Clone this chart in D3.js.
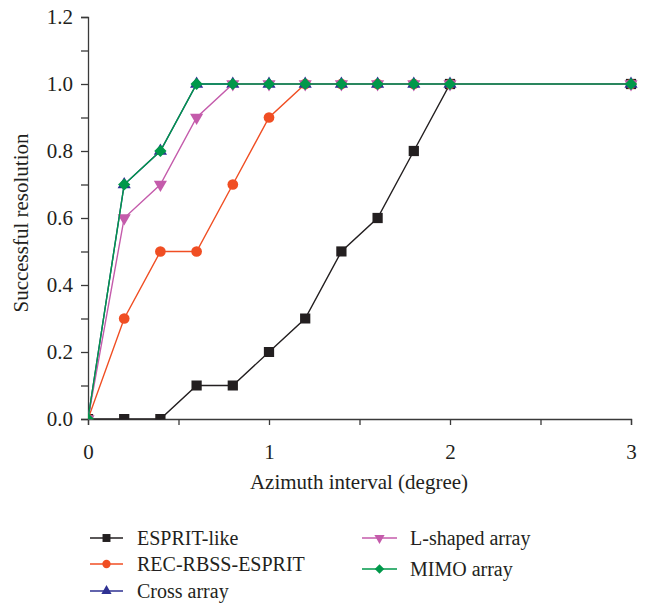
<!DOCTYPE html>
<html><head><meta charset="utf-8">
<script src="https://cdn.jsdelivr.net/npm/d3@7/dist/d3.min.js"></script>
<style>body{margin:0;background:#fff;} svg{display:block;}</style>
</head><body>
<svg id="chart" width="648" height="603"></svg>
<script>
const xValues = [0, 0.2, 0.4, 0.6, 0.8, 1.0, 1.2, 1.4, 1.6, 1.8, 2.0, 3.0];
const espritLike = [0, 0, 0, 0.1, 0.1, 0.2, 0.3, 0.5, 0.6, 0.8, 1.0, 1.0];
const recRbss = [0, 0.3, 0.5, 0.5, 0.7, 0.9, 1.0, 1.0, 1.0, 1.0, 1.0, 1.0];
const crossArray = [0, 0.7, 0.8, 1.0, 1.0, 1.0, 1.0, 1.0, 1.0, 1.0, 1.0, 1.0];
const lShaped = [0, 0.6, 0.7, 0.9, 1.0, 1.0, 1.0, 1.0, 1.0, 1.0, 1.0, 1.0];
const mimo = [0, 0.7, 0.8, 1.0, 1.0, 1.0, 1.0, 1.0, 1.0, 1.0, 1.0, 1.0];
const seriesNames = ["ESPRIT-like", "REC-RBSS-ESPRIT", "Cross array", "L-shaped array", "MIMO array"];
const xTicks = [0, 1, 2, 3];
const yTicks = [0, 0.2, 0.4, 0.6, 0.8, 1.0, 1.2];

const series = [
  {name: seriesNames[0], values: espritLike, color: "#231f20", symbol: d3.symbolSquare, size: 105, rot: 0},
  {name: seriesNames[1], values: recRbss, color: "#f04e23", symbol: d3.symbolCircle, size: 90, rot: 0},
  {name: seriesNames[2], values: crossArray, color: "#2e3192", symbol: d3.symbolTriangle, size: 75, rot: 0},
  {name: seriesNames[3], values: lShaped, color: "#c45bab", symbol: d3.symbolTriangle, size: 75, rot: 180},
  {name: seriesNames[4], values: mimo, color: "#00984a", symbol: d3.symbolSquare, size: 75, rot: 45}
];

const svg = d3.select("#chart");
const font = "'Liberation Serif', 'Times New Roman', serif";
const fs = 21;
const legendFs = 20;
const axisColor = "#3a3a3a";
const x = d3.scaleLinear().domain([0, 3]).range([88, 631]);
const y = d3.scaleLinear().domain([0, 1.2]).range([419, 17]);

svg.append("defs").append("clipPath").attr("id", "clip")
  .append("rect").attr("x", 88).attr("y", 0).attr("width", 560).attr("height", 419.5);

// axes
const xAxis = d3.axisBottom(x).tickValues(xTicks).tickFormat(d3.format("d")).tickSize(6).tickPadding(19);
const xMinor = d3.axisBottom(x).tickValues([0.5, 1.5, 2.5]).tickFormat("").tickSize(6);
const yAxis = d3.axisLeft(y).tickValues(yTicks).tickFormat(d3.format(".1f")).tickSize(7).tickPadding(8);
const yMinor = d3.axisLeft(y).tickValues([0.1, 0.3, 0.5, 0.7, 0.9, 1.1]).tickFormat("").tickSize(7);

function styleAxis(g) {
  g.select(".domain").attr("stroke", axisColor).attr("stroke-width", 1.3);
  g.selectAll(".tick line").attr("stroke", axisColor).attr("stroke-width", 1.3);
  g.selectAll("text").attr("font-family", font).attr("font-size", fs).attr("fill", "#231f20");
}
svg.append("g").attr("transform", "translate(0,419)").call(xAxis).call(styleAxis);
svg.append("g").attr("transform", "translate(0,419)").call(xMinor).call(styleAxis).select(".domain").remove();
svg.append("g").attr("transform", "translate(88,0)").call(yAxis).call(styleAxis);
svg.append("g").attr("transform", "translate(88,0)").call(yMinor).call(styleAxis).select(".domain").remove();

svg.append("text").attr("x", 359).attr("y", 489).attr("text-anchor", "middle")
  .attr("font-family", font).attr("font-size", fs).attr("fill", "#231f20")
  .text("Azimuth interval (degree)");
svg.append("text").attr("transform", "translate(28,223) rotate(-90)").attr("text-anchor", "middle")
  .attr("font-family", font).attr("font-size", fs).attr("fill", "#231f20")
  .text("Successful resolution");

const plot = svg.append("g").attr("clip-path", "url(#clip)");
const line = d3.line().x((d, i) => x(xValues[i])).y(d => y(d));

series.forEach(s => {
  const g = plot.append("g");
  g.append("path").datum(s.values).attr("d", line)
    .attr("fill", "none").attr("stroke", s.color).attr("stroke-width", 1.4);
  g.selectAll("path.m").data(s.values).enter().append("path").attr("class", "m")
    .attr("d", d3.symbol().type(s.symbol).size(s.size))
    .attr("transform", (d, i) => `translate(${x(xValues[i])},${y(d)}) rotate(${s.rot})`)
    .attr("fill", s.color);
});

// legend
const legendPos = [
  {lx: 90, tx: 137, y: 538},
  {lx: 90, tx: 137, y: 564},
  {lx: 90, tx: 137, y: 591},
  {lx: 362, tx: 410, y: 538},
  {lx: 362, tx: 410, y: 569}
];
const legendLineW = [33, 33, 33, 35, 35];
series.forEach((s, i) => {
  const p = legendPos[i];
  const g = svg.append("g");
  g.append("line").attr("x1", p.lx).attr("x2", p.lx + legendLineW[i]).attr("y1", p.y).attr("y2", p.y)
    .attr("stroke", s.color).attr("stroke-width", 1.4);
  g.append("path").attr("d", d3.symbol().type(s.symbol).size(s.size * 0.6))
    .attr("transform", `translate(${p.lx + legendLineW[i] / 2},${p.y}) rotate(${s.rot})`)
    .attr("fill", s.color);
  g.append("text").attr("x", p.tx).attr("y", p.y + 7)
    .attr("font-family", font).attr("font-size", legendFs).attr("fill", "#231f20").text(s.name);
});
</script>
</body></html>
